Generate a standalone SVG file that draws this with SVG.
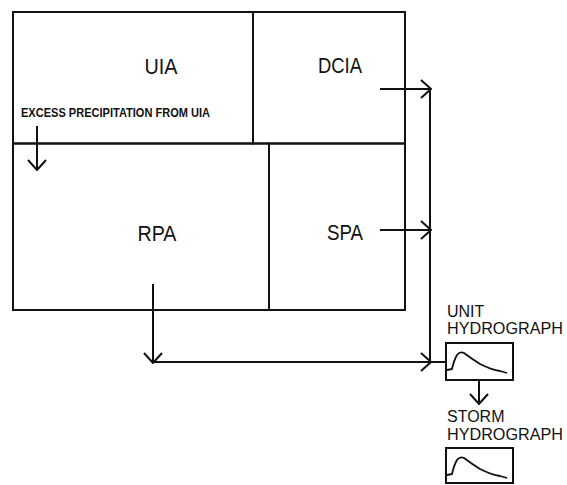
<svg xmlns="http://www.w3.org/2000/svg" width="567" height="485" viewBox="0 0 567 485">
<defs>
<style>
.box{fill:none;stroke:#111;stroke-width:2}
.ln{fill:none;stroke:#111;stroke-width:2}
.big{font-family:"Liberation Sans",Arial,sans-serif;font-size:22px;fill:#111;text-anchor:middle}
.sm{font-family:"Liberation Sans",Arial,sans-serif;font-size:12px;font-weight:bold;fill:#111}
.lab{font-family:"Liberation Sans",Arial,sans-serif;font-size:16px;fill:#111}
.crv{fill:none;stroke:#111;stroke-width:1.8;stroke-linejoin:round}
</style>
<marker id="arr" viewBox="-1 -10 12 20" markerWidth="12" markerHeight="20" refX="10" refY="0" orient="auto" markerUnits="userSpaceOnUse">
<path d="M0,-9 L10,0 L0,9" fill="none" stroke="#111" stroke-width="2"/>
</marker>
</defs>
<g id="uia">
<rect class="box" x="13" y="12" width="240" height="131.5"/>
<text class="big" x="161" y="74" textLength="33" lengthAdjust="spacingAndGlyphs">UIA</text>
<text class="sm" x="21" y="117" textLength="189" lengthAdjust="spacingAndGlyphs">EXCESS PRECIPITATION FROM UIA</text>
</g>
<g id="dcia">
<rect class="box" x="253" y="12" width="152" height="131.5"/>
<text class="big" x="340" y="73" textLength="44" lengthAdjust="spacingAndGlyphs">DCIA</text>
</g>
<g id="rpa">
<rect class="box" x="13" y="143.5" width="256" height="166.5"/>
<text class="big" x="157" y="241" textLength="39" lengthAdjust="spacingAndGlyphs">RPA</text>
</g>
<g id="spa">
<rect class="box" x="269" y="143.5" width="136" height="166.5"/>
<text class="big" x="345" y="240" textLength="36" lengthAdjust="spacingAndGlyphs">SPA</text>
</g>
<g id="unit-hydrograph">
<text class="lab" x="447" y="317">UNIT</text>
<text class="lab" x="447" y="334" textLength="116" lengthAdjust="spacingAndGlyphs">HYDROGRAPH</text>
<rect class="box" x="446" y="343" width="67" height="37"/>
<path class="crv" d="M447,370 L452,369 Q454,360 457,355 Q460,351 464,353 Q472,359 480,364 Q492,370 500,371 L507,373"/>
</g>
<g id="storm-hydrograph">
<text class="lab" x="447" y="422">STORM</text>
<text class="lab" x="447" y="440" textLength="116" lengthAdjust="spacingAndGlyphs">HYDROGRAPH</text>
<rect class="box" x="446" y="448" width="67" height="35"/>
<path class="crv" d="M447,475 L452,474 Q454,465 457,460 Q460,456 464,458 Q472,464 480,469 Q492,475 500,476 L507,478"/>
</g>
<g id="connectors">
<line class="ln" x1="37" y1="126" x2="37" y2="170" marker-end="url(#arr)"/>
<line class="ln" x1="380" y1="89" x2="431" y2="89" marker-end="url(#arr)"/>
<line class="ln" x1="380" y1="230" x2="431" y2="230" marker-end="url(#arr)"/>
<line class="ln" x1="430" y1="89" x2="430" y2="362"/>
<line class="ln" x1="153" y1="284" x2="153" y2="363" marker-end="url(#arr)"/>
<line class="ln" x1="153" y1="362" x2="431" y2="362" marker-end="url(#arr)"/>
<line class="ln" x1="430" y1="362" x2="446" y2="362"/>
<line class="ln" x1="479" y1="380" x2="479" y2="404" marker-end="url(#arr)"/>
</g>
</svg>
